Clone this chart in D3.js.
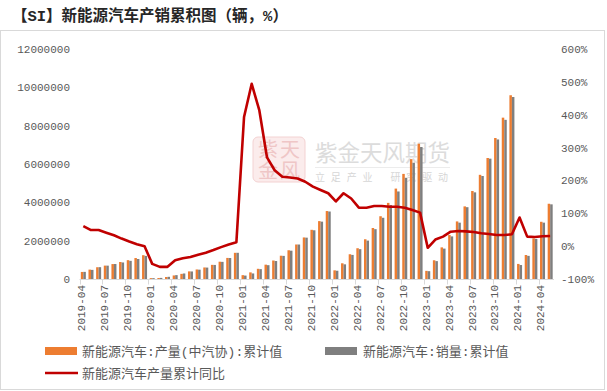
<!DOCTYPE html>
<html>
<head>
<meta charset="utf-8">
<script src="https://cdn.jsdelivr.net/npm/d3@7"></script>
<style>
  body { margin: 0; background: #fff; }
  svg text { font-family: "Liberation Mono", "Noto Sans CJK SC", sans-serif; }
</style>
</head>
<body>
<div id="chart"></div>
<script>
// months shown on the category axis
var months = ["2019-04","2019-05","2019-06","2019-07","2019-08","2019-09","2019-10","2019-11","2019-12",
  "2020-01","2020-02","2020-03","2020-04","2020-05","2020-06","2020-07","2020-08","2020-09","2020-10","2020-11","2020-12",
  "2021-01","2021-02","2021-03","2021-04","2021-05","2021-06","2021-07","2021-08","2021-09","2021-10","2021-11","2021-12",
  "2022-01","2022-02","2022-03","2022-04","2022-05","2022-06","2022-07","2022-08","2022-09","2022-10","2022-11","2022-12",
  "2023-01","2023-02","2023-03","2023-04","2023-05","2023-06","2023-07","2023-08","2023-09","2023-10","2023-11","2023-12",
  "2024-01","2024-02","2024-03","2024-04","2024-05"];

// 新能源汽车:产量(中汽协):累计值
var production = [368000, 490000, 614000, 699000, 779000, 887000, 983000, 1094000, 1242000,
  45000, 52000, 105000, 185000, 268000, 397000, 497000, 602000, 738000, 902000, 1100000, 1366000,
  200000, 345000, 532000, 748000, 965000, 1215000, 1500000, 1800000, 2168000, 2566000, 3020000, 3545000,
  452000, 820000, 1291000, 1605000, 2073000, 2661000, 3275000, 3971000, 4717000, 5484000, 6253000, 7058000,
  425000, 977000, 1650000, 2293000, 3004000, 3788000, 4592000, 5435000, 6313000, 7356000, 8418000, 9587000,
  787000, 1252000, 2115000, 2985000, 3926000];

// 新能源汽车:销量:累计值
var sales = [372000, 476000, 617000, 697000, 782000, 862000, 947000, 1043000, 1206000,
  44000, 57000, 114000, 202000, 288000, 393000, 487000, 596000, 734000, 894000, 1094000, 1367000,
  179000, 289000, 515000, 721000, 938000, 1206000, 1478000, 1799000, 2157000, 2542000, 2992000, 3521000,
  431000, 765000, 1257000, 1556000, 2003000, 2600000, 3194000, 3860000, 4567000, 5280000, 6065000, 6887000,
  408000, 933000, 1586000, 2222000, 2939000, 3747000, 4521000, 5374000, 6279000, 7280000, 8304000, 9495000,
  729000, 1207000, 2088000, 2940000, 3895000];

// 新能源汽车产量累计同比 (%)
var growth = [61, 49, 49, 41, 33, 23, 14, 6, 0,
  -54, -63, -63, -43, -37, -33, -26, -20, -12, -3, 5, 12,
  393, 494, 413, 270, 231, 211, 209, 206, 196, 181, 171, 161,
  136, 161, 145, 117, 117, 122, 122, 120, 120, 117, 110, 102,
  -5, 20, 29, 44, 46, 45, 43, 39, 37, 34, 34, 36,
  87, 29, 28, 30, 31];

var leftTicks = [0, 2000000, 4000000, 6000000, 8000000, 10000000, 12000000];
var rightTicks = [-100, 0, 100, 200, 300, 400, 500, 600];

var width = 607,
    height = 391;

var svg = d3.select("#chart").append("svg")
    .attr("width", width)
    .attr("height", height);

// frame
svg.append("rect")
    .attr("x", 0.5).attr("y", 30.5)
    .attr("width", 604).attr("height", 359)
    .attr("fill", "none")
    .attr("stroke", "#d9d9d9");

svg.append("text")
    .attr("x", 12).attr("y", 21)
    .attr("font-size", "15.5px")
    .attr("font-weight", "bold")
    .attr("fill", "#262626")
    .text("【SI】新能源汽车产销累积图（辆，%）");

var x = d3.scaleBand()
    .domain(months)
    .range([79.5, 554])
    .padding(0);

var xs = d3.scaleBand()
    .domain(["prod", "sales"])
    .range([0, x.bandwidth()])
    .paddingInner(0)
    .paddingOuter(0.53);

var yL = d3.scaleLinear().domain([0, 12000000]).range([279, 49]);
var yR = d3.scaleLinear().domain([-100, 600]).range([279, 49]);

// watermark
var wm = svg.append("g").attr("class", "watermark");
wm.append("rect")
    .attr("x", 253).attr("y", 137)
    .attr("width", 52).attr("height", 45)
    .attr("rx", 5)
    .attr("fill", "#fbecec")
    .attr("stroke", "#f3d2d2");
wm.selectAll("text.seal")
    .data([["紫", 258, 157], ["天", 280, 157], ["金", 258, 178], ["风", 280, 178]])
    .enter().append("text")
    .attr("class", "seal")
    .attr("x", function(d) { return d[1]; })
    .attr("y", function(d) { return d[2]; })
    .attr("font-size", "20px")
    .attr("fill", "#efc6c6")
    .text(function(d) { return d[0]; });
wm.append("text")
    .attr("x", 315).attr("y", 161)
    .attr("font-size", "22.5px")
    .attr("fill", "#dcdcdc")
    .text("紫金天风期货");
wm.append("line")
    .attr("x1", 315).attr("x2", 450)
    .attr("y1", 167.5).attr("y2", 167.5)
    .attr("stroke", "#ececec");
wm.append("text")
    .attr("x", 315).attr("y", 181)
    .attr("font-size", "10px")
    .attr("fill", "#d6d6d6")
    .attr("textLength", 133)
    .attr("lengthAdjust", "spacing")
    .text("立足产业  研究驱动");

// x axis line + boundary ticks
svg.append("line")
    .attr("x1", 79.5).attr("x2", 554)
    .attr("y1", 279.5).attr("y2", 279.5)
    .attr("stroke", "#d9d9d9");

svg.selectAll("line.xtick")
    .data(months.filter(function(d, i) { return i % 3 === 0; }))
    .enter().append("line")
    .attr("class", "xtick")
    .attr("x1", function(d) { return Math.round(x(d)) + 0.5; })
    .attr("x2", function(d) { return Math.round(x(d)) + 0.5; })
    .attr("y1", 279.5).attr("y2", 284.5)
    .attr("stroke", "#d9d9d9");

var xAxis = svg.append("g")
    .attr("transform", "translate(0,279)")
    .call(d3.axisBottom(x)
        .tickValues(months.filter(function(d, i) { return i % 3 === 0; }))
        .tickSize(0));
xAxis.select(".domain").remove();
xAxis.selectAll("text")
    .attr("transform", "rotate(-90)")
    .attr("x", -6)
    .attr("y", -2)
    .attr("dy", "0.35em")
    .attr("font-size", "11px")
    .attr("fill", "#595959")
    .style("text-anchor", "end");

var leftAxis = svg.append("g")
    .attr("transform", "translate(73,0)")
    .call(d3.axisLeft(yL).tickValues(leftTicks).tickSize(0).tickPadding(3).tickFormat(d3.format("d")));
leftAxis.select(".domain").remove();
leftAxis.selectAll("text").attr("font-size", "11px").attr("fill", "#595959");

var rightAxis = svg.append("g")
    .attr("transform", "translate(558,0)")
    .call(d3.axisRight(yR).tickValues(rightTicks).tickSize(0).tickPadding(3)
        .tickFormat(function(d) { return d + "%"; }));
rightAxis.select(".domain").remove();
rightAxis.selectAll("text").attr("font-size", "11px").attr("fill", "#595959");

// bars
svg.append("g").selectAll("rect")
    .data(production)
    .enter().append("rect")
    .attr("x", function(d, i) { return x(months[i]) + xs("prod"); })
    .attr("y", function(d) { return yL(d); })
    .attr("width", xs.bandwidth())
    .attr("height", function(d) { return yL(0) - yL(d); })
    .attr("fill", "#ED7D31");

svg.append("g").selectAll("rect")
    .data(sales)
    .enter().append("rect")
    .attr("x", function(d, i) { return x(months[i]) + xs("sales"); })
    .attr("y", function(d) { return yL(d); })
    .attr("width", xs.bandwidth())
    .attr("height", function(d) { return yL(0) - yL(d); })
    .attr("fill", "#7F7F7F");

// growth line
var line = d3.line()
    .x(function(d, i) { return x(months[i]) + x.bandwidth() / 2; })
    .y(function(d) { return yR(d); });

svg.append("path")
    .datum(growth)
    .attr("d", line)
    .attr("fill", "none")
    .attr("stroke", "#C00000")
    .attr("stroke-width", 2.6)
    .attr("stroke-linejoin", "round");

// legend
var legend = svg.append("g").attr("font-size", "13px").attr("fill", "#595959");
legend.append("rect").attr("x", 45).attr("y", 347).attr("width", 32).attr("height", 8).attr("fill", "#ED7D31");
legend.append("text").attr("x", 82).attr("y", 351).attr("dy", "0.35em").attr("fill", "#595959")
    .text("新能源汽车:产量(中汽协):累计值");
legend.append("rect").attr("x", 325).attr("y", 347).attr("width", 32).attr("height", 8).attr("fill", "#7F7F7F");
legend.append("text").attr("x", 363).attr("y", 351).attr("dy", "0.35em").attr("fill", "#595959")
    .text("新能源汽车:销量:累计值");
legend.append("line").attr("x1", 45).attr("x2", 78).attr("y1", 373).attr("y2", 373)
    .attr("stroke", "#C00000").attr("stroke-width", 2.6);
legend.append("text").attr("x", 82).attr("y", 373).attr("dy", "0.35em").attr("fill", "#595959")
    .text("新能源汽车产量累计同比");
</script>
</body>
</html>
